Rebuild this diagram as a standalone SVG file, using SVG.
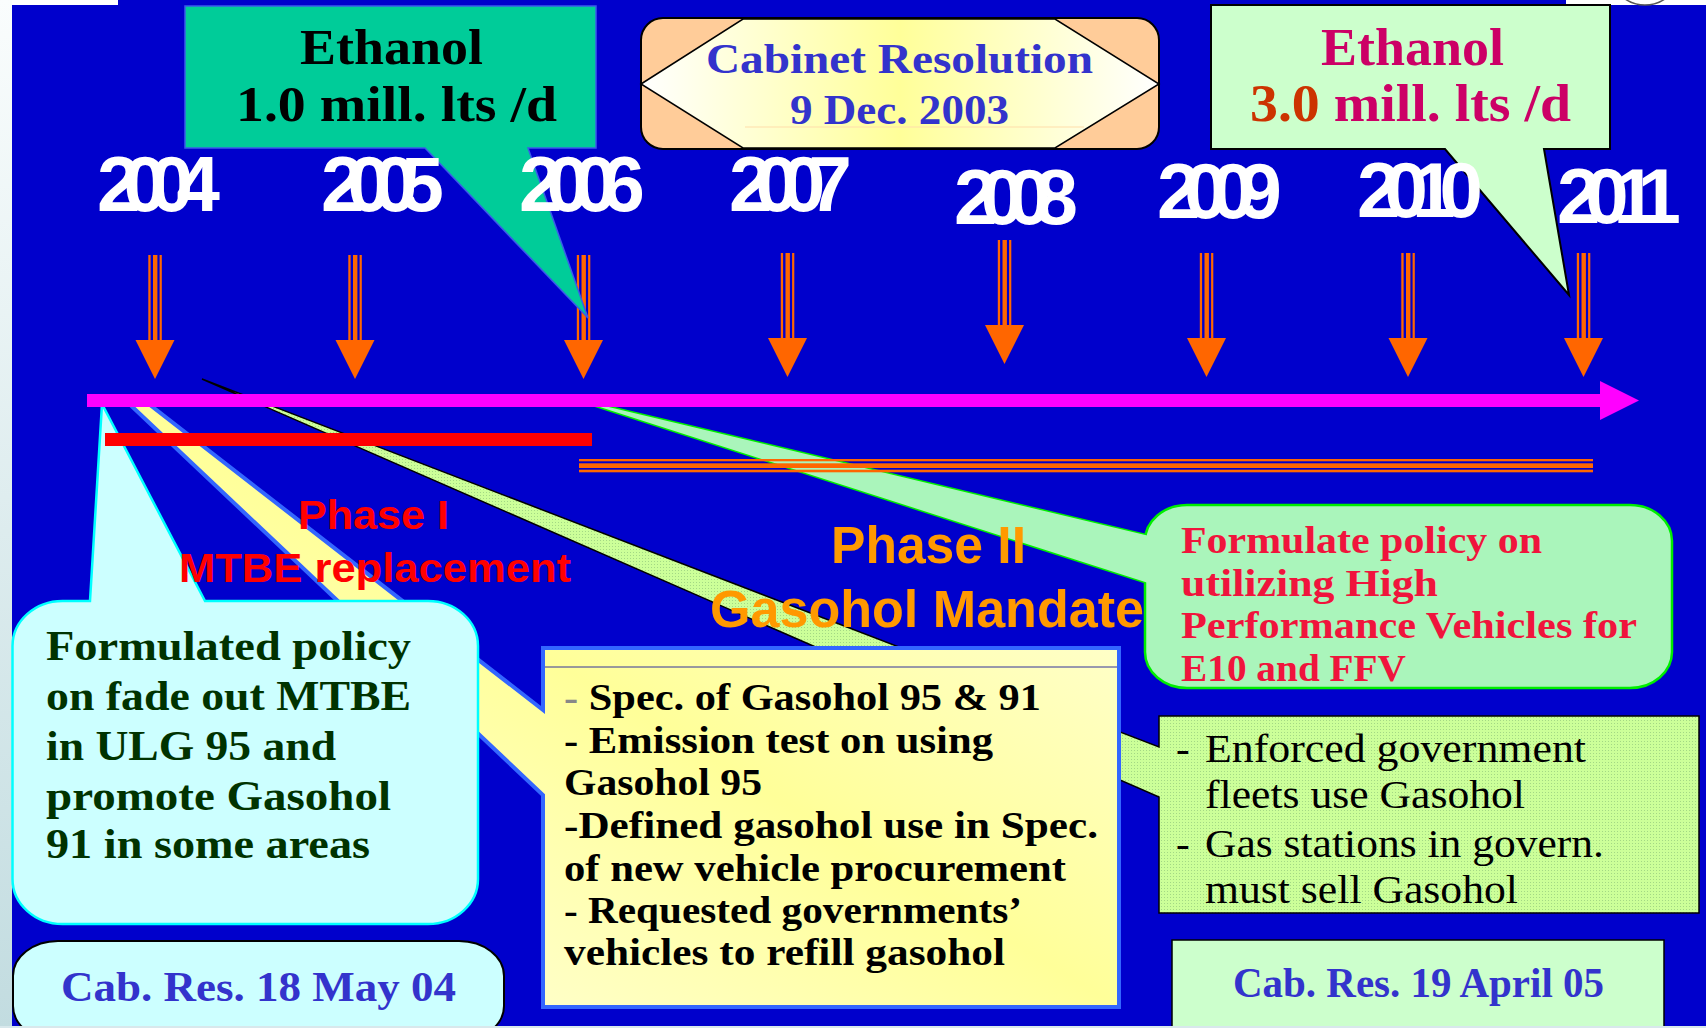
<svg xmlns="http://www.w3.org/2000/svg" width="1706" height="1028" viewBox="0 0 1706 1028">
<style>
.serif{font-family:"Liberation Serif","Times New Roman",serif}
.b{font-weight:bold}
.sans{font-family:"Liberation Sans",Arial,sans-serif;font-weight:bold}
.yr{font-family:"Liberation Sans",Arial,sans-serif;font-weight:bold;font-size:78px;fill:#FFFFFF}
.blue{fill:#3333CC}
</style>
<defs>
<linearGradient id="edge" x1="0" y1="0" x2="0" y2="1"><stop offset="0" stop-color="#FAFDFD"/><stop offset="1" stop-color="#C2DCE0"/></linearGradient>
<linearGradient id="hexg" x1="0" y1="0" x2="1" y2="0"><stop offset="0" stop-color="#FFFFFF"/><stop offset="0.5" stop-color="#FFFF99"/><stop offset="1" stop-color="#FFFFFF"/></linearGradient>
<linearGradient id="yel" x1="1" y1="0" x2="0" y2="1"><stop offset="0" stop-color="#FFFFE8"/><stop offset="0.5" stop-color="#FFFF99"/><stop offset="1" stop-color="#FFFFE8"/></linearGradient>
<pattern id="dots" width="3" height="3" patternUnits="userSpaceOnUse"><rect width="3" height="3" fill="#CCFF99"/><rect width="1" height="1" fill="#A3D884"/></pattern>
<g id="arr" fill="#FF6600"><rect x="-6.7" y="0" width="2.3" height="86"/><rect x="-2" y="0" width="4.4" height="86"/><rect x="4.6" y="0" width="2.2" height="86"/><polygon points="-19.5,85 19.5,85 0,124"/></g>
</defs>
<rect x="0" y="0" width="1706" height="1028" fill="url(#edge)"/>
<rect x="12" y="0" width="1694" height="1026" fill="#0000CC"/>
<rect x="12" y="0" width="106" height="5" fill="#FFFFFF"/>
<rect x="1566" y="0" width="140" height="5" fill="#FFFFFF"/>
<ellipse cx="1645" cy="-25" rx="33" ry="30" fill="none" stroke="#555555" stroke-width="1.5"/>

<g id="callout-gov-fleets">
<path d="M1159,716 H1699 V913 H1159 V797 L202,379 L1159,747 Z" fill="url(#dots)" stroke="#000000" stroke-width="1.5"/>
</g>
<g id="callout-phase2-specs">
<path d="M543,648 H1119 V1007 H543 V795 L123,398 L141,398 L543,710 Z" fill="url(#yel)" stroke="#3366FF" stroke-width="4"/>
<line x1="545" y1="667" x2="1117" y2="667" stroke="#333399" stroke-width="1"/>
</g>
<g id="callout-mtbe">
<path d="M205,601 L102,404 L90,601 H62.5 A50,45 0 0 0 12.5,646 V879 A50,45 0 0 0 62.5,924 H428 A50,45 0 0 0 478,879 V646 A50,45 0 0 0 428,601 Z" fill="#CCFFFF" stroke="#00FFFF" stroke-width="2.5"/>
</g>
<g id="callout-hpv">
<polygon points="575,399 1160,538.6 1160,586.8" fill="#AAF5BB" stroke="#00EE00" stroke-width="3"/>
<rect x="1145" y="505" width="527" height="183" rx="42" ry="36" fill="#AAF5BB" stroke="#00EE00" stroke-width="2.5"/>
<polygon points="575,399 1160,538.6 1160,586.8" fill="#AAF5BB"/>
</g>
<g id="cab-res-1">
<rect x="13" y="941" width="491" height="100" rx="45" ry="35" fill="#CCFFFF" stroke="#000000" stroke-width="2"/>
</g>
<g id="cab-res-2">
<rect x="1172" y="940" width="492" height="100" fill="#CCFFCC" stroke="#000000" stroke-width="1.5"/>
</g>

<g id="connectors">
<rect x="105" y="433" width="487" height="13" fill="#FF0000"/>
<g fill="#FF6600"><rect x="579" y="459" width="1014" height="2.3"/><rect x="579" y="463.3" width="1014" height="4.7"/><rect x="579" y="469.7" width="1014" height="2.6"/></g>
<polygon points="87,394 1600,394 1600,381 1639,400.5 1600,420 1600,407 87,407" fill="#FF00FF"/>
<use href="#arr" transform="translate(155,255)"/>
<use href="#arr" transform="translate(355,255)"/>
<use href="#arr" transform="translate(583.5,255)"/>
<use href="#arr" transform="translate(787.5,253)"/>
<use href="#arr" transform="translate(1004.5,240)"/>
<use href="#arr" transform="translate(1206.5,253)"/>
<use href="#arr" transform="translate(1408,253)"/>
<use href="#arr" transform="translate(1583.5,253)"/>
</g>

<g id="ethanol-1">
<path d="M185,6 H596 V148 H528 L588,318 L425,148 H185 Z" fill="#00CC99" stroke="#3A5BEA" stroke-width="1.5"/>
<text class="serif b" x="300" y="64" font-size="50" textLength="183" lengthAdjust="spacingAndGlyphs" fill="#000000">Ethanol</text>
<text class="serif b" x="236" y="121" font-size="50" textLength="321" lengthAdjust="spacingAndGlyphs" fill="#000000">1.0 mill. lts /d</text>
</g>
<g id="cabinet-resolution">
<rect x="641" y="18" width="518" height="131" rx="22" fill="#FFCC99" stroke="#000000" stroke-width="2"/>
<polygon points="641,84 743,19 1055,19 1159,84 1055,148 743,148" fill="url(#hexg)" stroke="#000000" stroke-width="1.5"/>
<line x1="745" y1="127" x2="1084" y2="127" stroke="#FFDDAA" stroke-width="1"/>
<text class="serif b blue" x="706" y="73" font-size="43" textLength="387" lengthAdjust="spacingAndGlyphs">Cabinet Resolution</text>
<text class="serif b blue" x="790" y="124" font-size="43" textLength="219" lengthAdjust="spacingAndGlyphs">9 Dec. 2003</text>
</g>
<g id="ethanol-3">
<path d="M1211,5 H1610 V149 H1544 L1569,295 L1445,149 H1211 Z" fill="#CCFFCC" stroke="#000000" stroke-width="2"/>
<text class="serif b" x="1321" y="65" font-size="52" textLength="183" lengthAdjust="spacingAndGlyphs" fill="#CC0066">Ethanol</text>
<text class="serif b" x="1250" y="121" font-size="52" textLength="321" lengthAdjust="spacingAndGlyphs" fill="#CC0066"><tspan fill="#CC3300">3.0</tspan> mill. lts /d</text>
</g>

<g id="years">
<text class="yr" x="97" y="211" textLength="123" lengthAdjust="spacing">2004</text>
<text class="yr" x="321" y="211" textLength="123" lengthAdjust="spacing">2005</text>
<text class="yr" x="519" y="211" textLength="126" lengthAdjust="spacing">2006</text>
<text class="yr" x="729" y="211" textLength="123" lengthAdjust="spacing">2007</text>
<text class="yr" x="954" y="224" textLength="124" lengthAdjust="spacing">2008</text>
<text class="yr" x="1157" y="218" textLength="125" lengthAdjust="spacing">2009</text>
<text class="yr" x="1357" y="217" textLength="126" lengthAdjust="spacing">2010</text>
<text class="yr" x="1557" y="223" textLength="124" lengthAdjust="spacing">2011</text>
</g>

<g id="phase-1">
<text class="sans" x="298" y="529" font-size="41" textLength="151" lengthAdjust="spacingAndGlyphs" fill="#FF0000">Phase I</text>
<text class="sans" x="179" y="582" font-size="41" textLength="392" lengthAdjust="spacingAndGlyphs" fill="#FF0000">MTBE replacement</text>
</g>
<g id="phase-2">
<text class="sans" x="831" y="563" font-size="51" textLength="195" lengthAdjust="spacingAndGlyphs" fill="#FF9900">Phase II</text>
<text class="sans" x="710" y="627" font-size="51" textLength="434" lengthAdjust="spacingAndGlyphs" fill="#FF9900">Gasohol Mandate</text>
</g>

<g id="text-mtbe" class="serif b" font-size="43" fill="#003300">
<text x="46" y="660" textLength="365" lengthAdjust="spacingAndGlyphs">Formulated policy</text>
<text x="46" y="710" textLength="365" lengthAdjust="spacingAndGlyphs">on fade out MTBE</text>
<text x="46" y="760" textLength="290" lengthAdjust="spacingAndGlyphs">in ULG 95 and</text>
<text x="46" y="810" textLength="345" lengthAdjust="spacingAndGlyphs">promote Gasohol</text>
<text x="46" y="858" textLength="324" lengthAdjust="spacingAndGlyphs">91 in some areas</text>
</g>
<g id="text-cab-1">
<text class="serif b blue" x="61" y="1001" font-size="43" textLength="395" lengthAdjust="spacingAndGlyphs">Cab. Res. 18 May 04</text>
</g>
<g id="text-specs" class="serif b" font-size="37" fill="#000000" style="white-space:pre">
<text x="564" y="710" textLength="477" lengthAdjust="spacingAndGlyphs"><tspan fill="#888888">-</tspan> Spec. of  Gasohol 95 &amp; 91</text>
<text x="564" y="753" textLength="429" lengthAdjust="spacingAndGlyphs">- Emission test on using</text>
<text x="564" y="795" textLength="198" lengthAdjust="spacingAndGlyphs">Gasohol 95</text>
<text x="564" y="838" textLength="534" lengthAdjust="spacingAndGlyphs">-Defined gasohol use in Spec.</text>
<text x="564" y="881" textLength="502" lengthAdjust="spacingAndGlyphs">of new vehicle procurement</text>
<text x="564" y="923" textLength="458" lengthAdjust="spacingAndGlyphs">- Requested governments’</text>
<text x="564" y="965" textLength="441" lengthAdjust="spacingAndGlyphs">vehicles to refill gasohol</text>
</g>
<g id="text-hpv" class="serif b" font-size="38" fill="#F0143C">
<text x="1181" y="553" textLength="361" lengthAdjust="spacingAndGlyphs">Formulate policy on</text>
<text x="1181" y="596" textLength="257" lengthAdjust="spacingAndGlyphs">utilizing High</text>
<text x="1181" y="638" textLength="456" lengthAdjust="spacingAndGlyphs">Performance Vehicles for</text>
<text x="1181" y="681" textLength="225" lengthAdjust="spacingAndGlyphs">E10 and FFV</text>
</g>
<g id="text-gov" class="serif" font-size="41" fill="#000000">
<text x="1176" y="762">-</text>
<text x="1205" y="762" textLength="381" lengthAdjust="spacingAndGlyphs">Enforced government</text>
<text x="1205" y="808" textLength="320" lengthAdjust="spacingAndGlyphs">fleets use Gasohol</text>
<text x="1176" y="857">-</text>
<text x="1205" y="857" textLength="399" lengthAdjust="spacingAndGlyphs">Gas stations in govern.</text>
<text x="1205" y="903" textLength="313" lengthAdjust="spacingAndGlyphs">must sell Gasohol</text>
</g>
<g id="text-cab-2">
<text class="serif b blue" x="1233" y="997" font-size="43" textLength="371" lengthAdjust="spacingAndGlyphs">Cab. Res. 19 April 05</text>
</g>
<rect x="0" y="1026" width="1706" height="2" fill="#D8E8EC"/>
</svg>
